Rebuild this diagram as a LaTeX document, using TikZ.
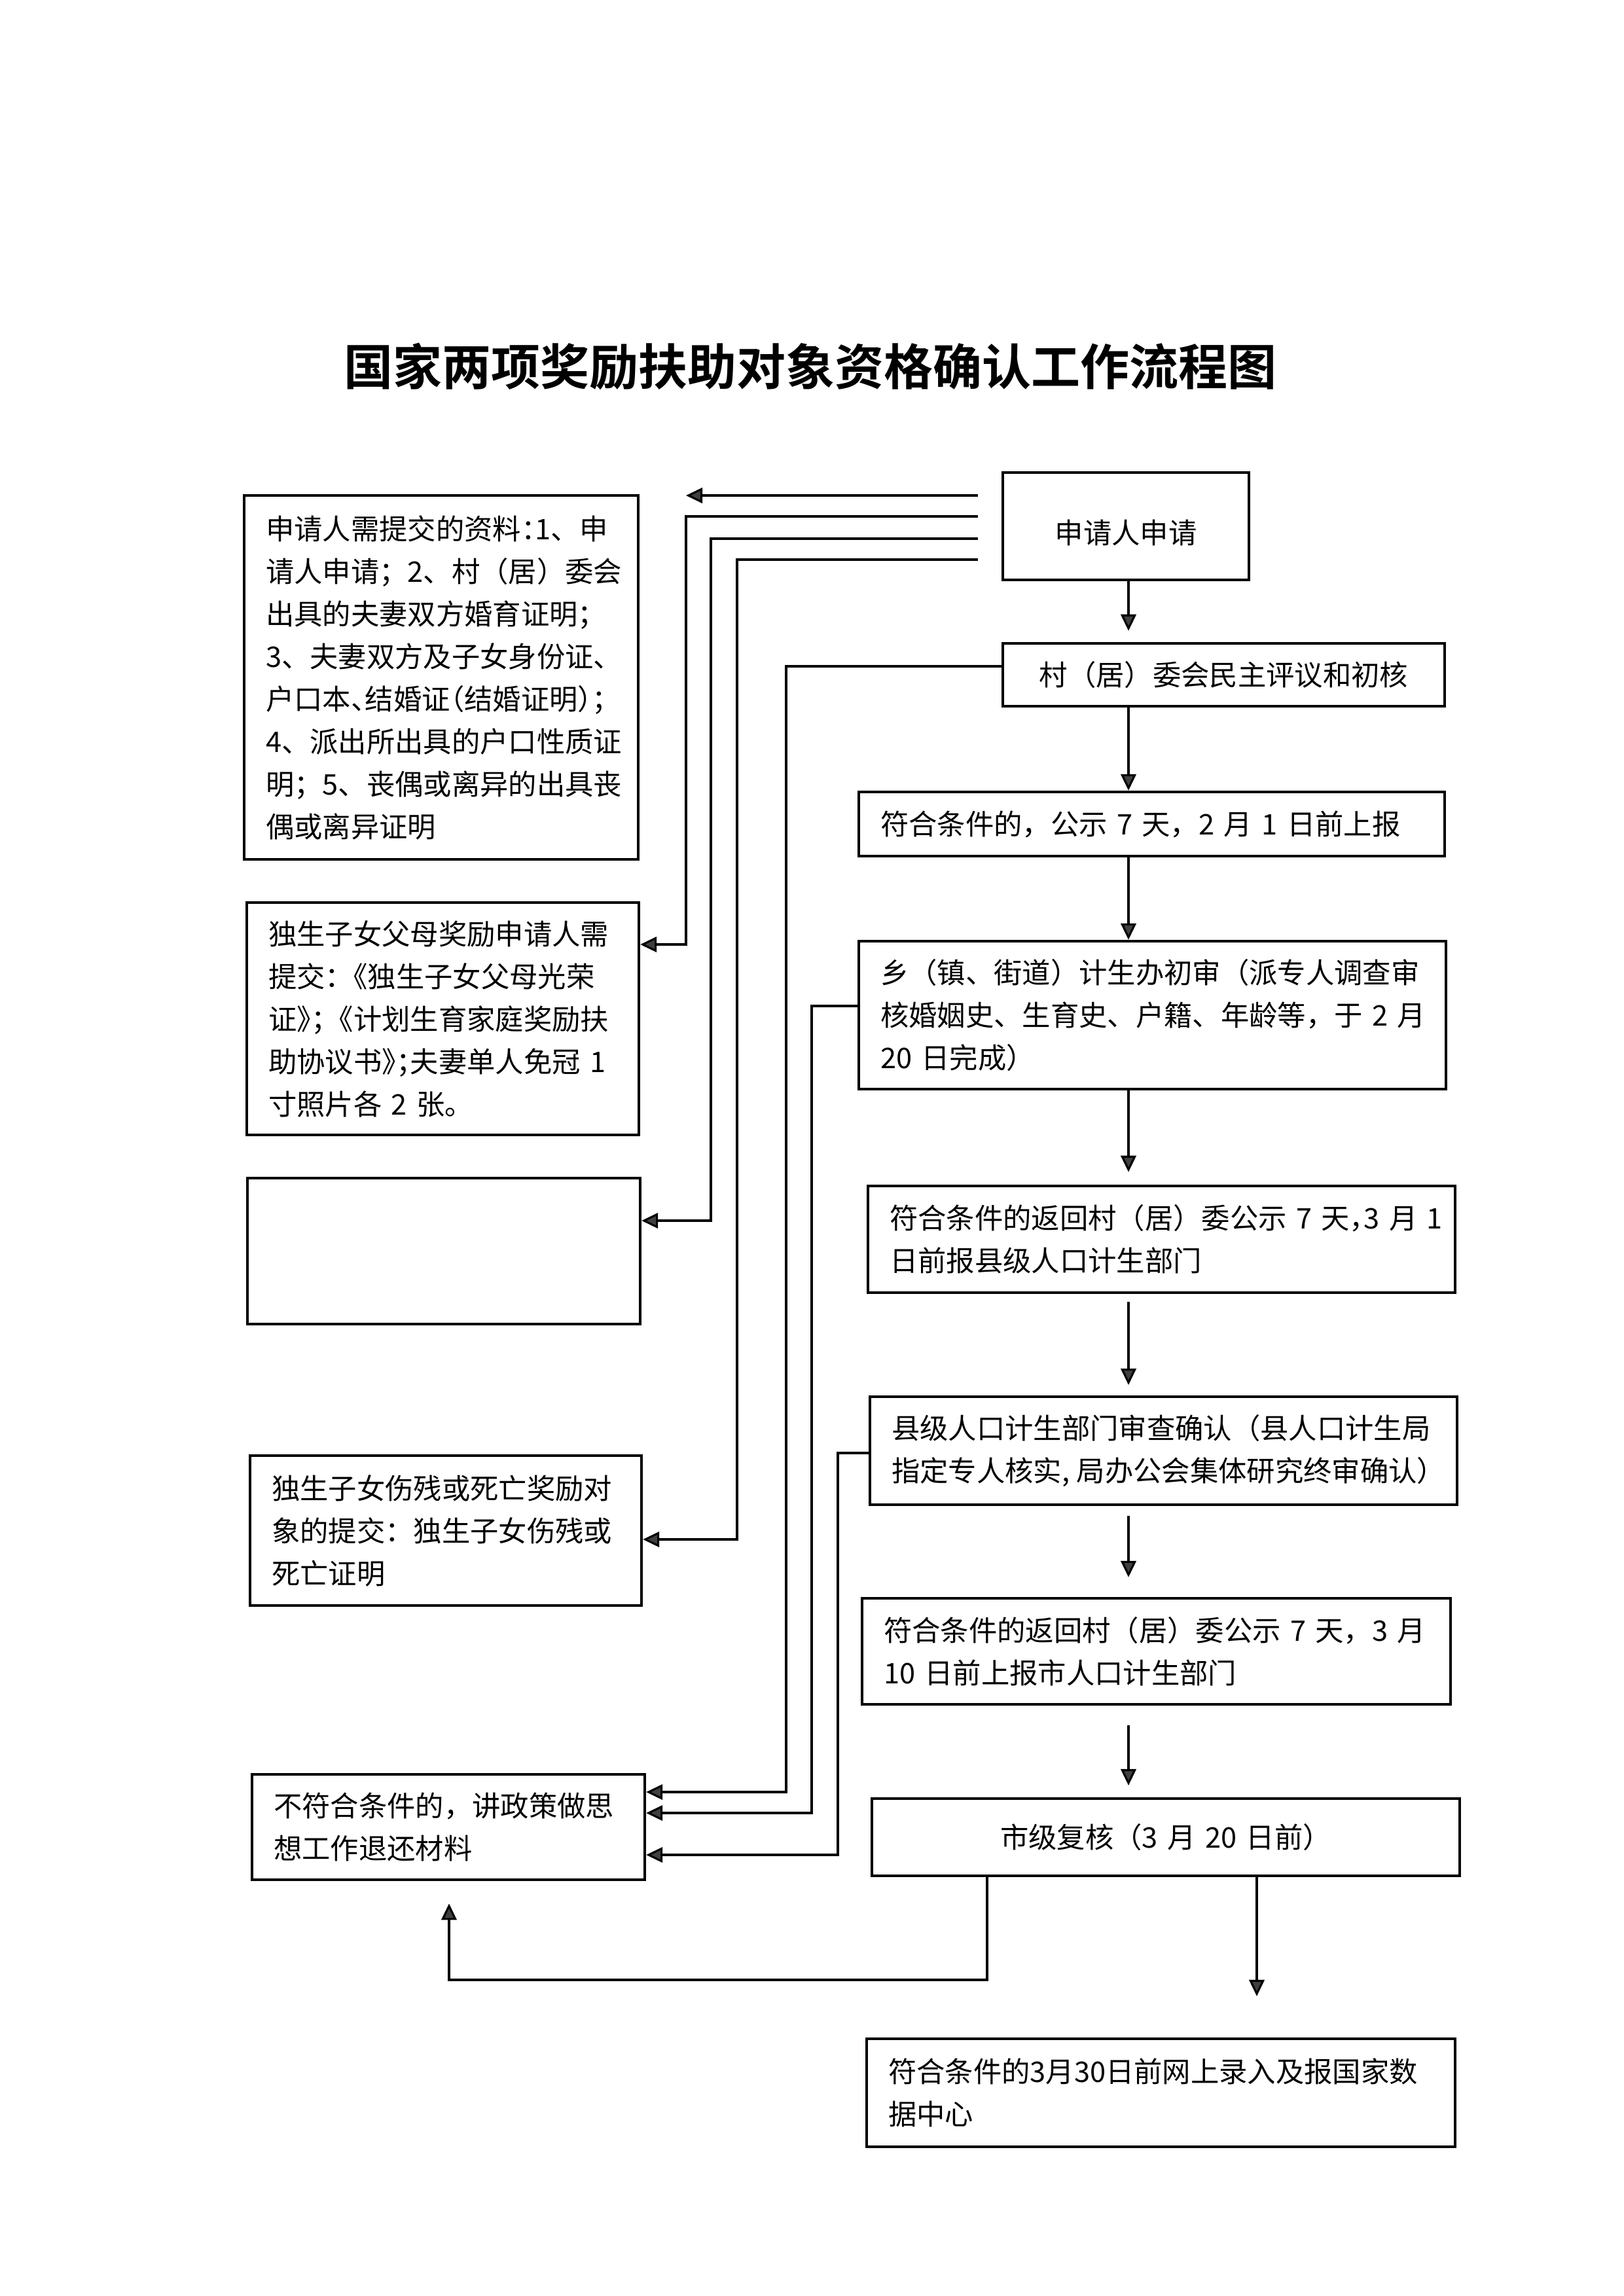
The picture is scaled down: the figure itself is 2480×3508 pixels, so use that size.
\documentclass[tikz,border=0pt]{standalone}
\usepackage{fontspec}
\setmainfont{Noto Sans CJK SC}
\newfontfamily\titlefont{Noto Sans CJK SC Bold}
\usetikzlibrary{arrows.meta}
\newcommand\hf[1]{{\addfontfeature{RawFeature=+halt}#1}}
\newcommand\bodyfont{\fontsize{10.4bp}{15.6bp}\selectfont}
\newcommand\lx[1]{\mbox{#1}}
\begin{document}
\begin{tikzpicture}[x=0.24bp,y=-0.24bp,
  bx/.style 2 args={/utils/exec={\pgfmathsetlengthmacro\bw{#1*0.24bp}\pgfmathsetlengthmacro\bh{#2*0.24bp}\pgfmathsetlengthmacro\tw{(#1-66)*0.24bp}},
     draw, line width=1.05bp, inner xsep=7.92bp, inner ysep=0pt, font=\bodyfont,
     minimum width=\bw, minimum height=\bh, text width=\tw},
  lbox/.style 2 args={bx={#1}{#2}, align=left},
  cbox/.style 2 args={bx={#1}{#2}, align=center},
  arr/.style={line width=0.75bp, -{Triangle[length=6bp,width=5.6bp,fill=black!75]}}
]
\path[fill=white] (0,0) rectangle (2480,3508);
\useasboundingbox (0,0) rectangle (2480,3508);

\node[font=\titlefont\fontsize{18bp}{22bp}\selectfont] (title) at (1238,560) {国家两项奖励扶助对象资格确认工作流程图};

% left column
\node[lbox={602}{556}] (L1) at (674,1035) {\lx{申请人需提交的资料\hf{：}1、申}\\\lx{请人申请；2、村（居）委会}\\\lx{出具的夫妻双方婚育证明；}\\\lx{3、夫妻双方及子女身份证、}\\\lx{户口本\hf{、}结婚证\hf{（}结婚证明\hf{）}；}\\\lx{4、派出所出具的户口性质证}\\\lx{明；5、丧偶或离异的出具丧}\\\lx{偶或离异证明}};
\node[lbox={599}{355}] (L2) at (676.5,1556.5) {\lx{独生子女父母奖励申请人需}\\\lx{提交\hf{：}《独生子女父母光荣}\\\lx{证\hf{》；}《计划生育家庭奖励扶}\\\lx{助协议书\hf{》；}夫妻单人免冠 1}\\\lx{寸照片各 2 张。}};
\node[lbox={600}{223}] (L3) at (678,1911.5) {};
\node[lbox={598}{229}] (L4) at (681,2338.5) {\lx{独生子女伤残或死亡奖励对}\\\lx{象的提交：独生子女伤残或}\\\lx{死亡证明}};
\node[lbox={600}{161}] (L5) at (685,2791.5) {\lx{不符合条件的，讲政策做思}\\\lx{想工作退还材料}};

% right column
\node[cbox={376}{164}] (R1) at (1720,804) {\raisebox{-2.4bp}[\height][\depth]{申请人申请}};
\node[cbox={675}{96}] (R2) at (1869.5,1031) {村（居）委会民主评议和初核};
\node[lbox={895}{98}] (R3) at (1759.5,1259) {\lx{符合条件的，公示 7 天，2 月 1 日前上报}};
\node[lbox={897}{226}] (R4) at (1760.5,1551) {\lx{乡（镇、街道）计生办初审（派专人调查审}\\\lx{核婚姻史、生育史、户籍、年龄等，于 2 月}\\\lx{20 日完成）}};
\node[lbox={897}{163}] (R5) at (1774.5,1893.5) {\lx{符合条件的返回村（居）委公示 7 天\hf{，}3 月 1}\\\lx{日前报县级人口计生部门}};
\node[lbox={897}{165}] (R6) at (1777.5,2216.5) {\lx{县级人口计生部门审查确认（县人口计生局}\\\lx{指定专人核实,\hspace{0.25em}局办公会集体研究终审确认）}};
\node[lbox={899}{162}] (R7) at (1766.5,2523) {\lx{符合条件的返回村（居）委公示 7 天，3 月}\\\lx{10 日前上报市人口计生部门}};
\node[cbox={898}{118}] (R8) at (1781,2807) {市级复核（3 月 20 日前）};
\node[lbox={899}{165}] (R9) at (1773.5,3197.5) {\lx{符合条件的3月30日前网上录入及报国家数}\\\lx{据中心}};

% main spine
\coordinate (sp) at (1724,0);
\draw[arr,shorten >=4.1bp] (R1.south -| sp) -- (R2.north -| sp);
\draw[arr] (R2.south -| sp) -- (R3.north -| sp);
\draw[arr] (R3.south -| sp) -- (R4.north -| sp);
\draw[arr,shorten >=4.6bp] (R4.south -| sp) -- (R5.north -| sp);
\draw[arr,shorten <=2.9bp,shorten >=3.8bp] (R5.south -| sp) -- (R6.north -| sp);
\draw[arr,shorten <=3.6bp,shorten >=7.2bp] (R6.south -| sp) -- (R7.north -| sp);
\draw[arr,shorten <=7.2bp,shorten >=4.3bp] (R7.south -| sp) -- (R8.north -| sp);

% routes from the application box
\coordinate (h1) at (1048,757);
\coordinate (h2) at (1048,789);  \coordinate (k2) at (1048,1443);
\coordinate (h3) at (1086,823);  \coordinate (k3) at (1086,1865);
\coordinate (h4) at (1126,855);  \coordinate (k4) at (1126,2352);
\draw[arr,shorten <=8.6bp] (R1.west |- h1) -- (h1);
\draw[arr,shorten <=8.6bp] (R1.west |- h2) -- (h2) -- (k2) -- (k2 -| L2.east);
\draw[arr,shorten <=8.6bp] (R1.west |- h3) -- (h3) -- (k3) -- (k3 -| L3.east);
\draw[arr,shorten <=8.6bp] (R1.west |- h4) -- (h4) -- (k4) -- (k4 -| L4.east);

% rejection routes
\coordinate (h5) at (1201,1018); \coordinate (k5) at (1201,2738);
\coordinate (h6) at (1240,1537); \coordinate (k6) at (1240,2770);
\coordinate (h7) at (1280,2220); \coordinate (k7) at (1280,2834);
\draw[arr] (R2.west |- h5) -- (h5) -- (k5) -- (k5 -| L5.east);
\draw[arr] (R4.west |- h6) -- (h6) -- (k6) -- (k6 -| L5.east);
\draw[arr] (R6.west |- h7) -- (h7) -- (k7) -- (k7 -| L5.east);

% city review outputs
\coordinate (b8a) at (1508,3025); \coordinate (b8b) at (686,3025);
\draw[arr,shorten >=8.2bp] (R8.south -| b8a) -- (b8a) -- (b8b) -- (L5.south -| b8b);
\coordinate (q9) at (1920,0);
\draw[arr,shorten >=15.1bp] (R8.south -| q9) -- (R9.north -| q9);
\end{tikzpicture}
\end{document}
